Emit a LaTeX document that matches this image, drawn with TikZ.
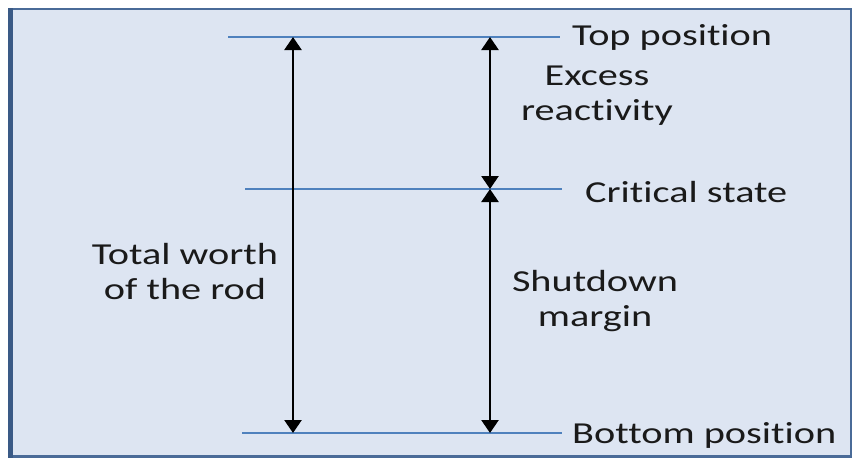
\documentclass[tikz,border=0pt]{standalone}
\usepackage{fontspec}
\setmainfont{Carlito}[FakeStretch=1.32, Ligatures=NoCommon]
\usetikzlibrary{arrows.meta}
\definecolor{panel}{HTML}{DDE5F2}
\definecolor{frameblue}{HTML}{4A6B98}
\definecolor{frameedge}{HTML}{3A5A86}
\definecolor{levelblue}{HTML}{4F81BD}
\definecolor{ink}{HTML}{1A1A1A}
\begin{document}
\begin{tikzpicture}[x=1pt,y=-1pt,
  levelline/.style={draw=levelblue, line width=1.8pt},
  span/.style={draw=black, line width=2.5pt,
    {Triangle[width=17pt,length=13pt]}-{Triangle[width=17pt,length=13pt]}},
  lbl/.style={font=\fontsize{30.5}{35}\selectfont, inner sep=0pt, text=ink}]
  \useasboundingbox (0,0) rectangle (853,459);
  \fill[white] (0,0) rectangle (853,459);
  % panel with frame; the left edge is heavier
  \filldraw[fill=panel, draw=frameblue, line width=2.8pt] (10,9) rectangle (851,456.5);
  \fill[frameedge] (7.5,7.8) rectangle (13,458);

  % reference levels
  \coordinate (topL)  at (228,37);  \coordinate (topR)  at (560,37);
  \coordinate (critL) at (245,189); \coordinate (critR) at (562,189);
  \coordinate (botL)  at (242,433); \coordinate (botR)  at (562,433);
  \draw[levelline] (topL) -- (topR);
  \draw[levelline] (critL) -- (critR);
  \draw[levelline] (botL) -- (botR);

  % arrow end points on the levels
  \coordinate (wTop) at (293,37);  \coordinate (wBot) at (293,433);
  \coordinate (eTop) at (490,37);  \coordinate (eMid) at (490,189);
  \coordinate (sMid) at (490,189); \coordinate (sBot) at (490,433);
  \draw[span] (wTop) -- (wBot);
  \draw[span] (eTop) -- (eMid);
  \draw[span] (sMid) -- (sBot);

  % labels
  \node[lbl, anchor=base west] (topTxt)  at (572,45)  {Top position};
  \node[lbl, anchor=base west] (critTxt) at (585,202) {Critical state};
  \node[lbl, anchor=base west] (botTxt)  at (572,443) {Bottom position};
  \node[lbl, align=center, anchor=north] (excTxt) at (597,66)  {Excess\\reactivity};
  \node[lbl, align=center, anchor=north] (totTxt) at (185,243) {Total worth\\of the rod};
  \node[lbl, align=center, anchor=north] (sdTxt)  at (595,270) {Shutdown\\margin};
\end{tikzpicture}
\end{document}
